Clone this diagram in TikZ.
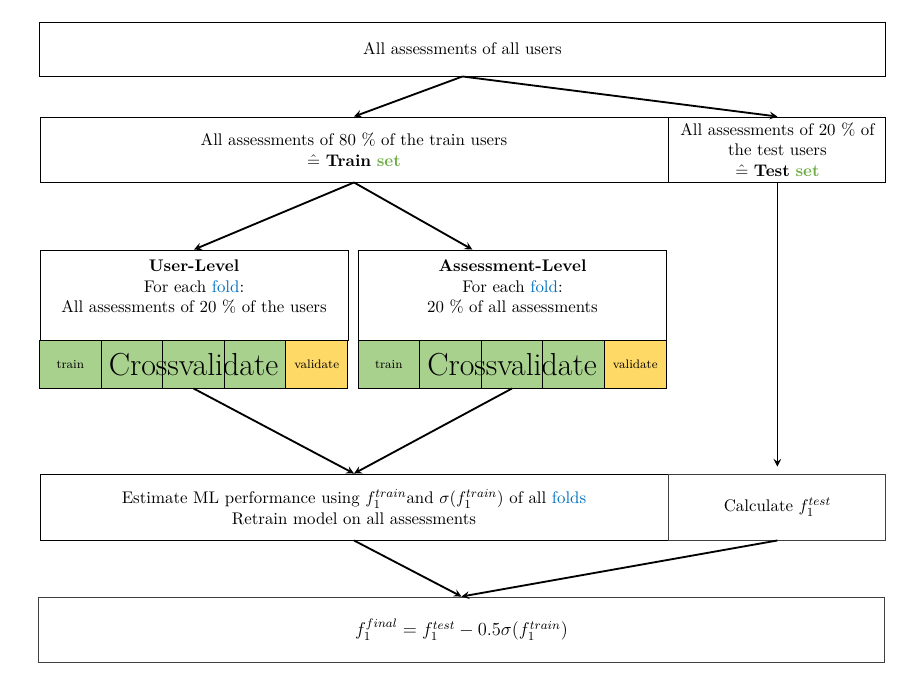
\documentclass[tikz,border=0pt]{standalone}
\usepackage{amsmath}
\usepackage{amssymb}
\usepackage{xcolor}
\usetikzlibrary{positioning,calc}

\definecolor{cellgreen}{HTML}{A9D18E}
\definecolor{cellyellow}{HTML}{FFD966}
\definecolor{foldblue}{HTML}{0070C0}
\definecolor{setgreen}{HTML}{70AD47}

\tikzset{
    box/.style={draw, line width=0.6pt, align=center, inner sep=0pt},
    cell/.style={draw, line width=0.6pt, fill=cellgreen, outer sep=0pt,
        minimum width=40.04pt, minimum height=31.2pt, inner sep=0pt,
        font=\footnotesize},
    flow/.style={-stealth, line width=1.2pt}
}

\begin{document}
\begin{tikzpicture}[x=0.65pt, y=-0.65pt,
    font=\fontsize{10.95}{13.5}\selectfont]

    \useasboundingbox (0,0) rectangle (922,696);

    % all users
    \node [box,
        minimum width=549.3pt,
        minimum height=35.1pt
    ] (all) at (462.5,49) {All assessments of all users};

    % train set
    \node [box,
        minimum width=408.2pt,
        minimum height=42.25pt
    ] (train) at (354,149.5)
        {All assessments of 80~\% of the train users\\
         $\hat{=}$ \textbf{Train} \textcolor{setgreen}{\textbf{set}}};

    % test set
    \node [box,
        minimum width=141.05pt,
        minimum height=42.25pt,
        right=0pt of train
    ] (test)
        {All assessments of 20~\% of\\
         the test users\\
         $\hat{=}$ \textbf{Test} \textcolor{setgreen}{\textbf{set}}};

    % user level
    \node [box,
        minimum width=200.2pt,
        minimum height=58.5pt
    ] (userbox) at (194,295) {};

    \node [align=center, below=3pt of userbox.north] (usertext)
        {\textbf{User-Level}\\
         For each \textcolor{foldblue}{fold}:\\
         All assessments of 20~\% of the users};

    \node [cell, below right=0pt and 0pt of userbox.south west] (ucell1) {train};
    \node [cell, right=0pt of ucell1] (ucell2) {};
    \node [cell, right=0pt of ucell2] (ucell3) {};
    \node [cell, right=0pt of ucell3] (ucell4) {};
    \node [cell, fill=cellyellow, right=0pt of ucell4] (ucell5) {validate};

    \node [font=\fontsize{20.7}{20.7}\selectfont] (ucross) at (ucell3.center) {Crossvalidate};

    % assessment level
    \node [box,
        minimum width=200.2pt,
        minimum height=58.5pt
    ] (assessbox) at (512.5,295) {};

    \node [align=center, below=3pt of assessbox.north] (assesstext)
        {\textbf{Assessment-Level}\\
         For each \textcolor{foldblue}{fold}:\\
         20~\% of all assessments};

    \node [cell, below right=0pt and 0pt of assessbox.south west] (acell1) {train};
    \node [cell, right=0pt of acell1] (acell2) {};
    \node [cell, right=0pt of acell2] (acell3) {};
    \node [cell, right=0pt of acell3] (acell4) {};
    \node [cell, fill=cellyellow, right=0pt of acell4] (acell5) {validate};

    \node [font=\fontsize{20.7}{20.7}\selectfont] (across) at (acell3.center) {Crossvalidate};

    % estimate
    \node [box,
        minimum width=408.2pt,
        minimum height=42.9pt
    ] (estimate) at (354,507)
        {Estimate ML performance using $f_1^{train}$and $\sigma(f_1^{train})$ of all \textcolor{foldblue}{folds}\\
         Retrain model on all assessments};

    % calculate
    \node [box,
        draw=black!75,
        minimum width=141.05pt,
        minimum height=42.9pt,
        right=0pt of estimate
    ] (calc) {Calculate $f_1^{test}$};

    % final
    \node [box,
        draw=black!75,
        minimum width=549.3pt,
        minimum height=42.25pt,
        font=\fontsize{12}{14}\selectfont
    ] (final) at (461.5,629.5)
        {$f_1^{final} = f_1^{test} - 0.5\sigma(f_1^{train})$};

    % Arrows
    \draw[flow] (all.south) -- (train.north);
    \draw[flow] (all.south) -- (test.north);

    \draw[flow] (train.south) -- (userbox.north);
    \draw[flow] (train.south) -- ($(assessbox.north west)!0.37!(assessbox.north east)$);

    \draw[flow, shorten >=4.5pt] (test.south) -- (calc.north);

    \draw[flow] (ucell3.south) -- (estimate.north);
    \draw[flow] (acell3.south) -- (estimate.north);

    \draw[flow] (estimate.south) -- (final.north);
    \draw[flow] (calc.south) -- (final.north);

\end{tikzpicture}
\end{document}
